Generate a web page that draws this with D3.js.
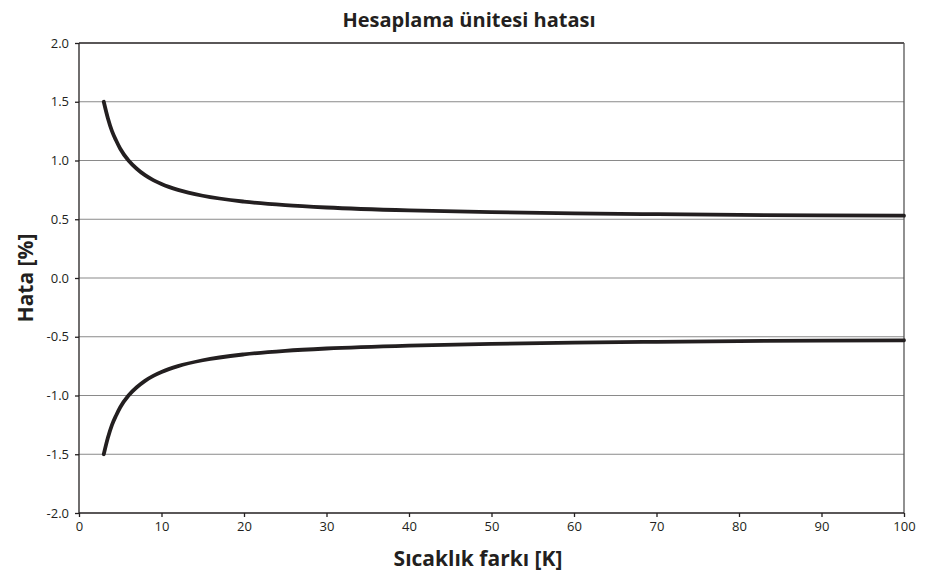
<!DOCTYPE html>
<html>
<head>
<meta charset="utf-8">
<script src="https://cdn.jsdelivr.net/npm/d3@7"></script>
<style>
  body { margin: 0; background: #fff; }
  svg text { font-family: "Open Sans", "Noto Sans", sans-serif; fill: #231f20; }
</style>
</head>
<body>
<svg id="chart"></svg>
<script>
// values
const deltaT = [3, 3.5, 4, 4.5, 5, 6, 7, 8, 9, 10, 12, 15, 20, 25, 30, 40, 50, 60, 70, 80, 90, 100];
const upperErr = [1.5, 1.36, 1.25, 1.17, 1.1, 1.0, 0.93, 0.875, 0.833, 0.8, 0.75, 0.7, 0.65, 0.62, 0.6, 0.575, 0.56, 0.55, 0.543, 0.537, 0.533, 0.53];
const lowerErr = [-1.5, -1.36, -1.25, -1.17, -1.1, -1.0, -0.93, -0.875, -0.833, -0.8, -0.75, -0.7, -0.65, -0.62, -0.6, -0.575, -0.56, -0.55, -0.543, -0.537, -0.533, -0.53];
const xTicks = [0, 10, 20, 30, 40, 50, 60, 70, 80, 90, 100];
const yTicks = [-2.0, -1.5, -1.0, -0.5, 0.0, 0.5, 1.0, 1.5, 2.0];

const width = 930, height = 574;
const margin = { top: 43, left: 79, bottom: 61, right: 26 };
const iwidth = width - margin.left - margin.right;
const iheight = height - margin.top - margin.bottom;

const svg = d3.select('#chart').attr('width', width).attr('height', height);
const g = svg.append('g').attr('transform', `translate(${margin.left},${margin.top})`);

const x = d3.scaleLinear().domain([0, 100]).range([0, iwidth]);
const y = d3.scaleLinear().domain([-2, 2]).range([iheight, 0]);

// gridlines
g.selectAll('.grid')
  .data(yTicks.filter(d => d > -2 && d < 2))
  .enter().append('line')
  .attr('x1', 0).attr('x2', iwidth)
  .attr('y1', d => y(d)).attr('y2', d => y(d))
  .attr('stroke', '#8a8a8a').attr('stroke-width', 1.2);

// frame: top and right
g.append('line').attr('x1', 0).attr('x2', iwidth).attr('y1', 0).attr('y2', 0)
  .attr('stroke', '#231f20').attr('stroke-width', 1.3);
g.append('line').attr('x1', iwidth).attr('x2', iwidth).attr('y1', 0).attr('y2', iheight)
  .attr('stroke', '#555').attr('stroke-width', 1.3);

const fmt = d => d3.format('.1f')(d).replace('−', '-');
const yAxis = g.append('g')
  .call(d3.axisLeft(y).tickValues(yTicks).tickFormat(fmt).tickSize(4).tickPadding(6));
const xAxis = g.append('g')
  .attr('transform', `translate(0,${iheight})`)
  .call(d3.axisBottom(x).tickValues(xTicks).tickSize(4).tickPadding(5));

[yAxis, xAxis].forEach(a => {
  a.select('.domain').attr('stroke', '#231f20').attr('stroke-width', 1.3);
  a.selectAll('.tick line').attr('stroke', '#231f20').attr('stroke-width', 1.3);
  a.selectAll('.tick text').attr('font-size', 13).style('fill', '#231f20');
});
xAxis.select('.domain').attr('d', `M0,0H${iwidth}`);
yAxis.select('.domain').attr('d', `M0,${iheight}V0`);

// curves
const line = d3.line().curve(d3.curveMonotoneX);
[upperErr, lowerErr].forEach(vals => {
  g.append('path')
    .datum(deltaT.map((t, i) => [x(t), y(vals[i])]))
    .attr('d', line)
    .attr('fill', 'none')
    .attr('stroke', '#231f20')
    .attr('stroke-width', 3.8)
    .attr('stroke-linecap', 'round');
});

// titles
svg.append('text')
  .attr('x', 469).attr('y', 27)
  .attr('text-anchor', 'middle')
  .attr('font-size', 20).attr('font-weight', 'bold')
  .text('Hesaplama ünitesi hatası');

svg.append('text')
  .attr('x', 478).attr('y', 566)
  .attr('text-anchor', 'middle')
  .attr('font-size', 21).attr('font-weight', 'bold')
  .text('Sıcaklık farkı [K]');

svg.append('text')
  .attr('transform', `translate(33,${margin.top + y(0)}) rotate(-90)`)
  .attr('text-anchor', 'middle')
  .attr('font-size', 21).attr('font-weight', 'bold')
  .text('Hata [%]');
</script>
</body>
</html>
